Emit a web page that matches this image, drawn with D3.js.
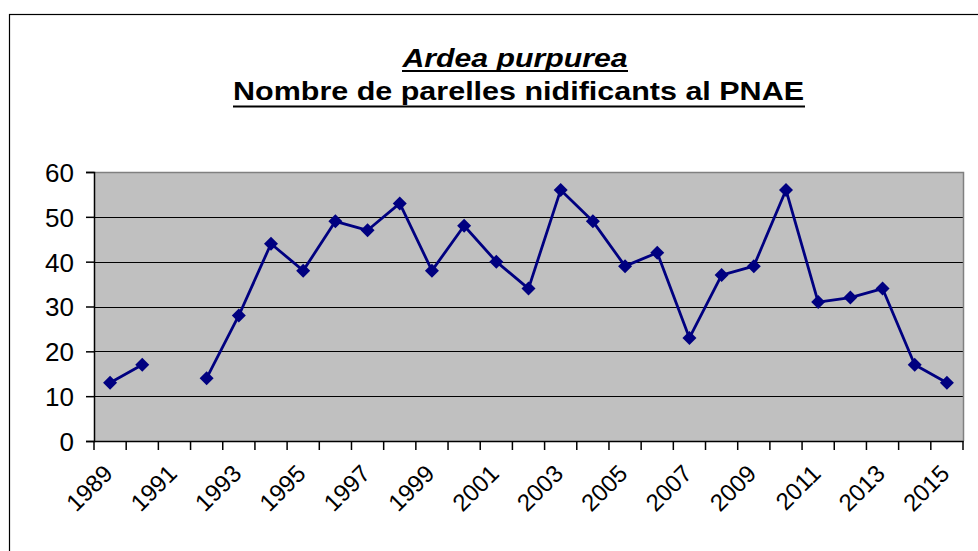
<!DOCTYPE html>
<html>
<head>
<meta charset="utf-8">
<script src="https://cdn.jsdelivr.net/npm/d3@7"></script>
<style>
  body { margin: 0; background: #fff; }
  svg { display: block; font-family: "Liberation Sans", Arial, sans-serif; }
</style>
</head>
<body>
<svg width="978" height="551"></svg>
<script>
const years = ["1989","1990","1991","1992","1993","1994","1995","1996","1997","1998",
  "1999","2000","2001","2002","2003","2004","2005","2006","2007","2008",
  "2009","2010","2011","2012","2013","2014","2015"];
const pairs = [13, 17, null, 14, 28, 44, 38, 49, 47, 53,
  38, 48, 40, 34, 56, 49, 39, 42, 23, 37,
  39, 56, 31, 32, 34, 17, 13];
const yTicks = [0, 10, 20, 30, 40, 50, 60];
const labelYears = years.filter((y, i) => i % 2 === 0);

const svg = d3.select("svg");
const plot = { left: 94, right: 963, top: 172, bottom: 441 };

// outer frame (runs off the right and bottom edges)
svg.append("rect")
  .attr("x", 9.5).attr("y", 14.5)
  .attr("width", 1000).attr("height", 600)
  .attr("fill", "none").attr("stroke", "#000").attr("stroke-width", 1.2);

// titles
svg.append("text")
  .attr("x", 515).attr("y", 67)
  .attr("text-anchor", "middle")
  .attr("font-size", 26).attr("font-weight", "bold").attr("font-style", "italic")
  .attr("textLength", 225).attr("lengthAdjust", "spacingAndGlyphs")
  .text("Ardea  purpurea");
svg.append("text")
  .attr("x", 518.5).attr("y", 100)
  .attr("text-anchor", "middle")
  .attr("font-size", 26).attr("font-weight", "bold")
  .attr("textLength", 571).attr("lengthAdjust", "spacingAndGlyphs")
  .text("Nombre de parelles  nidificants al PNAE");
svg.append("line").attr("x1", 402).attr("x2", 628).attr("y1", 71).attr("y2", 71)
  .attr("stroke", "#000").attr("stroke-width", 2);
svg.append("line").attr("x1", 233).attr("x2", 805).attr("y1", 106.5).attr("y2", 106.5)
  .attr("stroke", "#000").attr("stroke-width", 2.2);

const x = d3.scaleBand().domain(years).range([plot.left, plot.right]);
const y = d3.scaleLinear().domain([0, 60]).range([plot.bottom, plot.top]);

// plot background
svg.append("rect")
  .attr("x", plot.left).attr("y", plot.top)
  .attr("width", plot.right - plot.left).attr("height", plot.bottom - plot.top)
  .attr("fill", "#c0c0c0");

// gridlines
svg.append("g").selectAll("line")
  .data(yTicks.filter(t => t > 0 && t < 60))
  .join("line")
  .attr("x1", plot.left).attr("x2", plot.right)
  .attr("y1", d => Math.round(y(d)) + 0.5).attr("y2", d => Math.round(y(d)) + 0.5)
  .attr("stroke", "#000").attr("stroke-width", 1.2);

// plot border top/right
svg.append("path")
  .attr("d", `M${plot.left},${plot.top + 0.5}H${plot.right + 0.5}V${plot.bottom}`)
  .attr("fill", "none").attr("stroke", "#808080").attr("stroke-width", 1.5);

// y axis
const yAxis = svg.append("g")
  .attr("transform", `translate(${plot.left},0)`)
  .call(d3.axisLeft(y).tickValues(yTicks).tickSize(8).tickPadding(12));
yAxis.select(".domain").attr("stroke", "#000").attr("stroke-width", 1.5);
yAxis.selectAll(".tick line").attr("stroke", "#000").attr("stroke-width", 1.5);
yAxis.selectAll(".tick text")
  .attr("font-size", 26).attr("font-family", "Liberation Sans, Arial, sans-serif")
  .attr("fill", "#000").attr("dy", "0.36em");

// x axis: ticks at band boundaries
const xAxis = svg.append("g");
xAxis.append("line")
  .attr("x1", plot.left).attr("x2", plot.right + 0.5)
  .attr("y1", plot.bottom + 0.5).attr("y2", plot.bottom + 0.5)
  .attr("stroke", "#000").attr("stroke-width", 1.5);
xAxis.selectAll(".xt")
  .data(years.concat(["end"]))
  .join("line")
  .attr("class", "xt")
  .attr("x1", d => d === "end" ? plot.right : x(d))
  .attr("x2", d => d === "end" ? plot.right : x(d))
  .attr("y1", plot.bottom).attr("y2", plot.bottom + 9)
  .attr("stroke", "#000").attr("stroke-width", 1.5);
xAxis.selectAll(".xl")
  .data(labelYears)
  .join("text")
  .attr("class", "xl")
  .attr("transform", d => `translate(${x(d) + x.bandwidth() / 2 + 4},475) rotate(-45)`)
  .attr("text-anchor", "end")
  .attr("font-size", 24)
  .text(d => d);

// line
const pts = years.map((yr, i) => ({ yr, v: pairs[i] }));
const line = d3.line()
  .defined(d => d.v != null)
  .x(d => x(d.yr) + x.bandwidth() / 2)
  .y(d => y(d.v));

svg.append("path")
  .datum(pts)
  .attr("d", line)
  .attr("fill", "none")
  .attr("stroke", "#000080")
  .attr("stroke-width", 2.8)
  .attr("stroke-linejoin", "round");

svg.append("g").selectAll("path")
  .data(pts.filter(d => d.v != null))
  .join("path")
  .attr("transform", d => `translate(${x(d.yr) + x.bandwidth() / 2},${y(d.v)})`)
  .attr("d", "M0,-7L7,0L0,7L-7,0Z")
  .attr("fill", "#000080");
</script>
</body>
</html>
